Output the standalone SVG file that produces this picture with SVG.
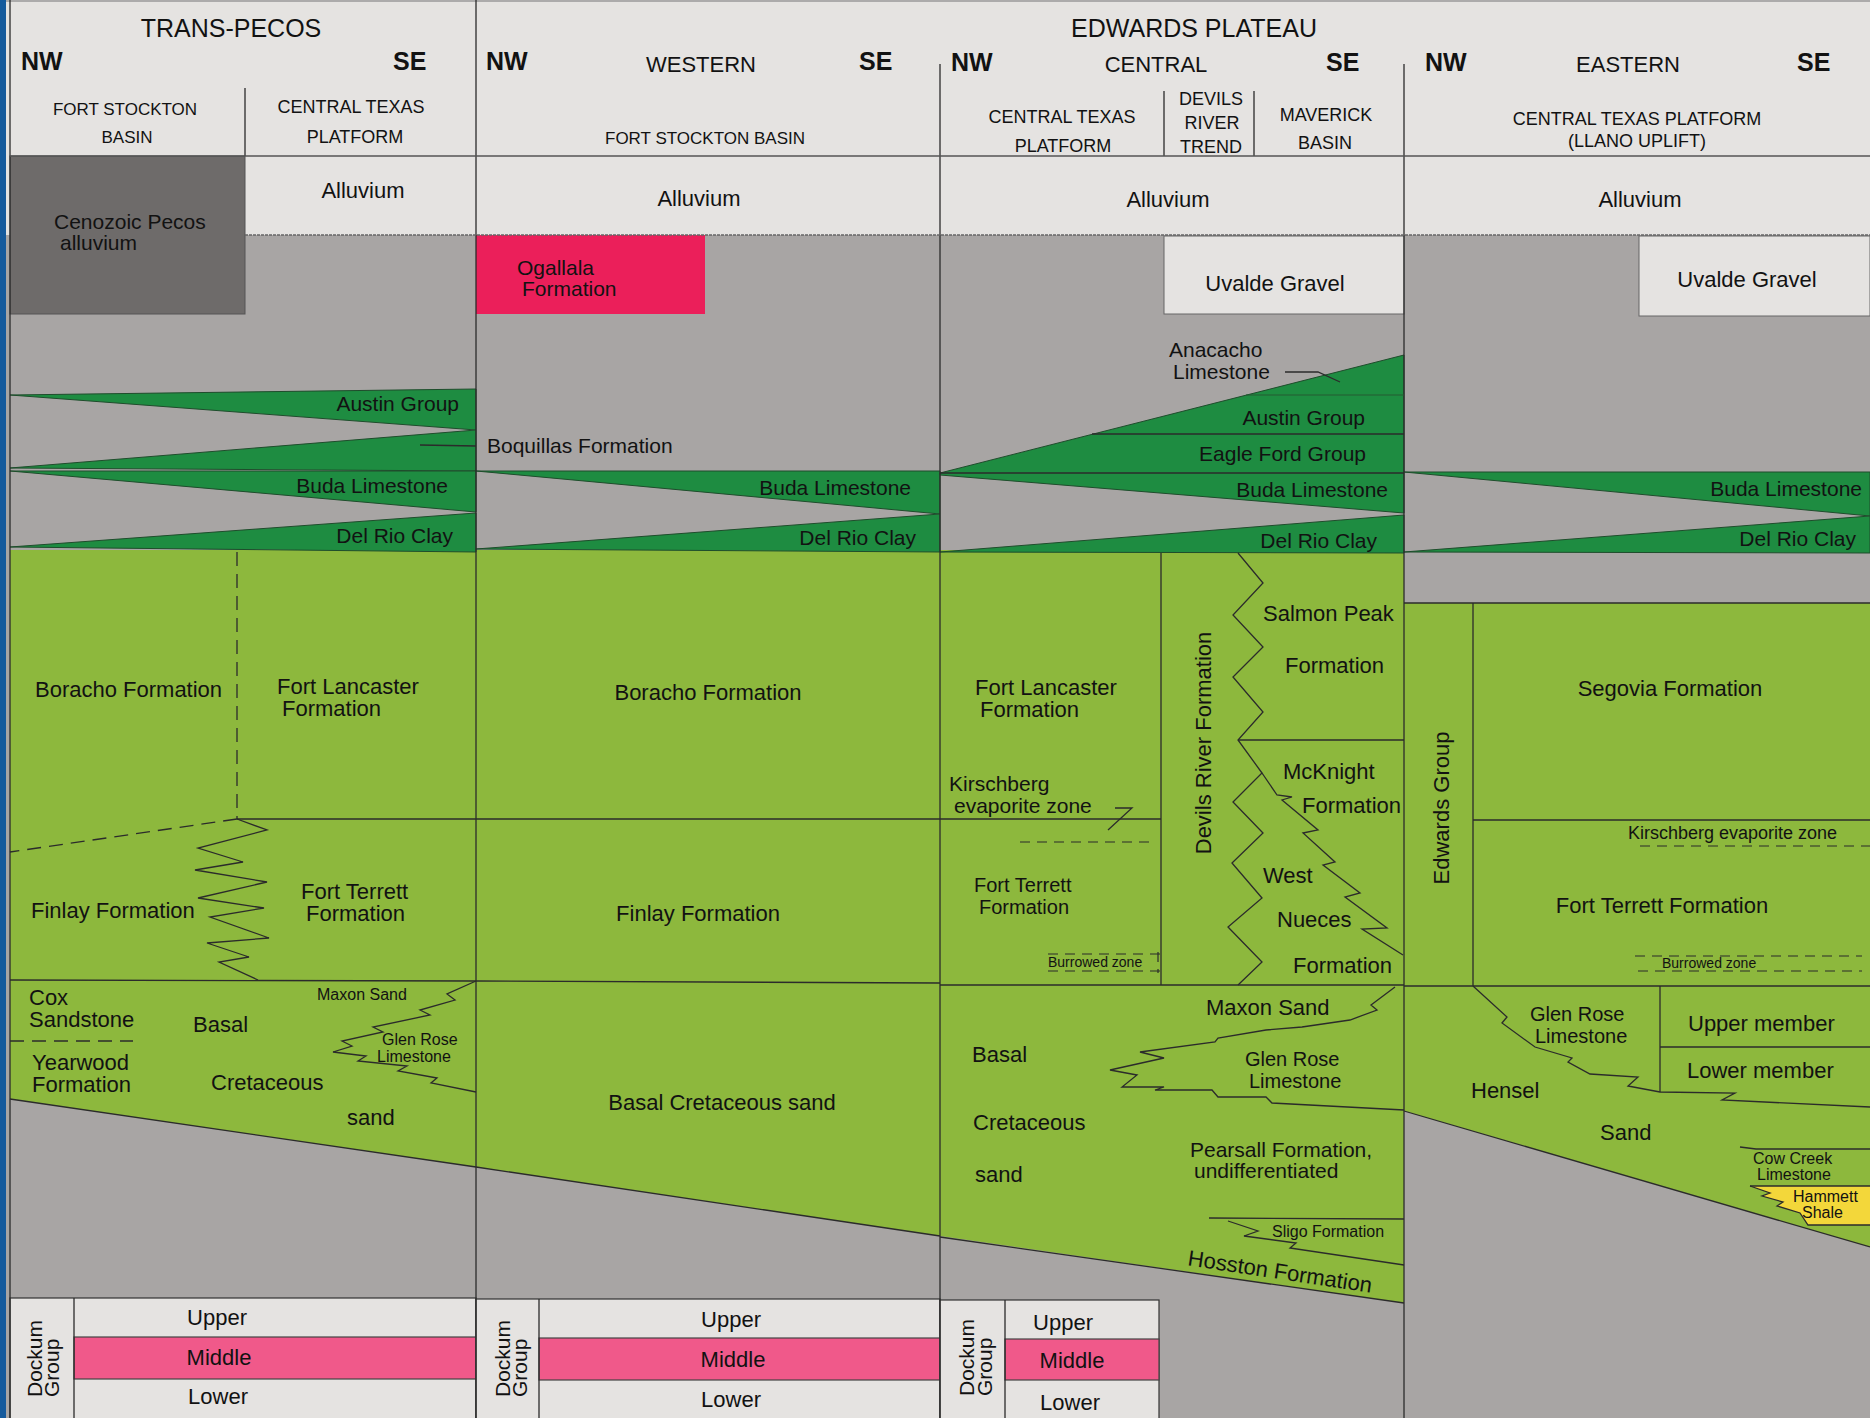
<svg xmlns="http://www.w3.org/2000/svg" width="1870" height="1418" viewBox="0 0 1870 1418">
<style>
text{font-family:"Liberation Sans",Arial,sans-serif;fill:#121212}
.hd{font-size:18px}
.hs{font-size:17px}
.big{font-size:25px}
.dir{font-size:25px;font-weight:bold}
.b{font-size:22px}
.r{font-size:21px}
.r20{font-size:20px}
.s{font-size:16px}
.xs{font-size:14px}
.m{text-anchor:middle}
.e{text-anchor:end}
.ln{fill:none;stroke:#2b2b2b;stroke-width:1.3}
.dl{fill:none;stroke:#2b2b2b;stroke-width:1.3;stroke-dasharray:14 8}
.ds{fill:none;stroke:#2b2b2b;stroke-width:1.2;stroke-dasharray:10 7}
.light{fill:#e5e3e1}
.dg{fill:#1e8c41;stroke:#1f4d2c;stroke-width:1}
.lg{fill:#8db83d}
</style>

<g id="background">
<rect x="0" y="0" width="1870" height="1418" fill="#a8a5a4"/>
<rect x="0" y="0" width="1870" height="235" class="light"/>
<rect x="0" y="0" width="6" height="1418" fill="#155a9c"/>
</g>

<g id="cenozoic">
<rect x="10" y="156" width="235" height="158" fill="#6e6b6a" stroke="#555" stroke-width="1"/>
<rect x="476" y="235" width="229" height="79" fill="#eb1f5a"/>
<rect x="1164" y="236" width="240" height="78" class="light" stroke="#666" stroke-width="1"/>
<rect x="1639" y="236" width="231" height="80" class="light" stroke="#666" stroke-width="1"/>
</g>

<g id="cretaceous-fill">
<polygon class="lg" points="10,550 1404,550 1404,1303 940,1236 476,1167 10,1099"/>
<polygon class="lg" points="1404,603 1870,603 1870,1247 1404,1111"/>
<polygon fill="#f3d73a" points="1750,1186 1870,1186 1870,1225 1808,1225 1800,1213 1777,1206 1783,1202 1762,1196 1770,1193"/>
</g>

<g id="wedges">
<polygon class="dg" points="10,395 476,389 476,430"/>
<polygon class="dg" points="10,468 476,430 476,471"/>
<polygon class="dg" points="10,471 476,471 476,512"/>
<polygon class="dg" points="10,547 476,513 476,552"/>
<polygon class="dg" points="476,471 940,471 940,514"/>
<polygon class="dg" points="476,549 940,514 940,552"/>
<polygon class="dg" points="940,473 1404,355 1404,513 940,475"/>
<polygon class="dg" points="940,552 1404,515 1404,553"/>
<polygon class="dg" points="1404,472 1870,472 1870,516"/>
<polygon class="dg" points="1404,552 1870,516 1870,553"/>
</g>

<g id="dockum">
<rect x="10" y="1298" width="466" height="122" class="light" stroke="#333" stroke-width="1.2"/>
<rect x="74" y="1337" width="402" height="42" fill="#f0598a" stroke="#444" stroke-width="1.2"/>
<line class="ln" x1="74" y1="1298" x2="74" y2="1418"/>
<rect x="476" y="1299" width="464" height="121" class="light" stroke="#333" stroke-width="1.2"/>
<rect x="539" y="1338" width="401" height="42" fill="#f0598a" stroke="#444" stroke-width="1.2"/>
<line class="ln" x1="539" y1="1299" x2="539" y2="1418"/>
<rect x="940" y="1300" width="219" height="120" class="light" stroke="#333" stroke-width="1.2"/>
<rect x="1005" y="1339" width="154" height="41" fill="#f0598a" stroke="#444" stroke-width="1.2"/>
<line class="ln" x1="1005" y1="1300" x2="1005" y2="1418"/>
</g>

<g id="lines">
<line x1="6" y1="1" x2="1870" y2="1" stroke="#999" stroke-width="1.5"/>
<line class="ln" x1="10" y1="0" x2="10" y2="1418"/>
<line class="ln" x1="476" y1="0" x2="476" y2="1418"/>
<line class="ln" x1="940" y1="64" x2="940" y2="1418"/>
<line class="ln" x1="1404" y1="64" x2="1404" y2="1418"/>
<line class="ln" x1="245" y1="88" x2="245" y2="156"/>
<line class="ln" x1="1164" y1="91" x2="1164" y2="156"/>
<line class="ln" x1="1254" y1="91" x2="1254" y2="156"/>
<line x1="10" y1="156" x2="1870" y2="156" stroke="#555" stroke-width="1.5"/>
<line x1="245" y1="235" x2="1870" y2="235" stroke="#666" stroke-width="1.5" stroke-dasharray="3 1"/>
<line class="ln" x1="420" y1="445" x2="476" y2="446"/>
<polyline class="ln" points="1285,372 1318,372 1340,382"/>
<line x1="1246" y1="395" x2="1404" y2="395" stroke="#245a33" stroke-width="1"/>
<line class="ln" x1="1092" y1="434" x2="1404" y2="434"/>
<line class="ln" x1="940" y1="473" x2="1404" y2="473"/>
<line class="ln" x1="1404" y1="603" x2="1870" y2="603"/>
<!-- Trans-Pecos -->
<line class="dl" x1="237" y1="552" x2="237" y2="819"/>
<line class="ln" x1="237" y1="819" x2="940" y2="819"/>
<line class="dl" x1="237" y1="819" x2="10" y2="852"/>
<polyline class="ln" points="237,819 267,830 198,848 243,862 195,870 267,882 198,898 264,908 210,917 269,938 207,943 249,957 219,962 258,980"/>
<line class="ln" x1="10" y1="980" x2="476" y2="981"/>
<line class="ln" x1="476" y1="981" x2="940" y2="983"/>
<line class="dl" x1="10" y1="1041" x2="133" y2="1041"/>
<polyline class="ln" points="476,981 447,994 455,1000 420,1010 430,1015 373,1027 383,1032 342,1041 352,1046 333,1052 366,1056 358,1061 407,1066 398,1071 437,1078 431,1083 476,1092"/>
<polyline class="ln" points="10,1099 476,1167 940,1236"/>
<!-- Central -->
<line class="ln" x1="1161" y1="553" x2="1161" y2="985"/>
<line class="ln" x1="940" y1="819" x2="1161" y2="819"/>
<polyline class="ln" points="1115,808 1132,808 1108,830"/>
<line class="ds" x1="1020" y1="842" x2="1152" y2="842"/>
<line class="ds" x1="1048" y1="954" x2="1160" y2="954"/>
<line class="ds" x1="1048" y1="971" x2="1160" y2="971"/>
<line class="ds" x1="1158" y1="952" x2="1158" y2="973"/>
<polyline class="ln" points="1238,553 1263,583 1233,615 1263,647 1233,677 1263,712 1238,740 1262,773 1233,802 1263,833 1232,863 1262,898 1228,927 1262,962 1238,985"/>
<line class="ln" x1="1238" y1="740" x2="1404" y2="740"/>
<polyline class="ln" points="1262,773 1277,795 1292,797 1282,800 1318,830 1303,833 1335,862 1323,865 1360,893 1345,897 1387,928 1362,929 1403,955"/>
<line class="ln" x1="940" y1="985" x2="1404" y2="985"/>
<polyline class="ln" points="1395,987 1371,1005 1377,1010 1350,1020 1302,1027 1266,1030 1218,1038 1215,1042 1140,1052 1164,1058 1110,1070 1137,1075 1122,1087 1164,1087 1155,1090 1212,1090 1218,1097 1266,1097 1272,1103 1404,1110"/>
<line class="ln" x1="1209" y1="1218" x2="1404" y2="1219"/>
<polyline class="ln" points="1228,1221 1258,1231 1244,1236 1296,1243 1290,1248 1404,1265"/>
<polyline class="ln" points="940,1237 1404,1303"/>
<!-- Eastern -->
<line class="ln" x1="1473" y1="603" x2="1473" y2="986"/>
<line class="ln" x1="1473" y1="820" x2="1870" y2="820"/>
<line class="ds" x1="1640" y1="846" x2="1870" y2="846"/>
<line class="ds" x1="1635" y1="956" x2="1862" y2="956"/>
<line class="ds" x1="1638" y1="971" x2="1862" y2="971"/>
<line class="ln" x1="1404" y1="986" x2="1870" y2="986"/>
<polyline class="ln" points="1473,986 1507,1017 1502,1023 1535,1047 1572,1058 1568,1062 1590,1074 1638,1077 1628,1086 1660,1092 1735,1093 1722,1100 1870,1107"/>
<line class="ln" x1="1660" y1="986" x2="1660" y2="1092"/>
<line class="ln" x1="1660" y1="1047" x2="1870" y2="1047"/>
<polyline class="ln" points="1740,1147 1756,1149 1870,1149"/>
<line class="ln" x1="1750" y1="1186" x2="1870" y2="1186"/>
<polyline class="ln" points="1750,1186 1770,1193 1762,1196 1783,1202 1777,1206 1800,1213 1808,1225 1870,1225"/>
<polyline class="ln" points="1404,1111 1870,1247"/>
</g>

<g id="header-text">
<text class="big m" x="231" y="37">TRANS-PECOS</text>
<text class="dir" x="21" y="70">NW</text>
<text class="dir" x="393" y="70">SE</text>
<text class="hs m" x="125" y="115">FORT STOCKTON</text>
<text class="hs m" x="127" y="143">BASIN</text>
<text class="hd m" x="351" y="113">CENTRAL TEXAS</text>
<text class="hd m" x="355" y="143">PLATFORM</text>
<text class="dir" x="486" y="70">NW</text>
<text class="b m" x="701" y="72">WESTERN</text>
<text class="dir" x="859" y="70">SE</text>
<text class="hs m" x="705" y="144">FORT STOCKTON BASIN</text>
<text class="big m" x="1194" y="37">EDWARDS PLATEAU</text>
<text class="dir" x="951" y="71">NW</text>
<text class="b m" x="1156" y="72">CENTRAL</text>
<text class="dir" x="1326" y="71">SE</text>
<text class="hd m" x="1062" y="123">CENTRAL TEXAS</text>
<text class="hd m" x="1063" y="152">PLATFORM</text>
<text class="hd m" x="1211" y="105">DEVILS</text>
<text class="hd m" x="1212" y="129">RIVER</text>
<text class="hd m" x="1211" y="153">TREND</text>
<text class="hd m" x="1326" y="121">MAVERICK</text>
<text class="hd m" x="1325" y="149">BASIN</text>
<text class="dir" x="1425" y="71">NW</text>
<text class="b m" x="1628" y="72">EASTERN</text>
<text class="dir" x="1797" y="71">SE</text>
<text class="hd m" x="1637" y="125">CENTRAL TEXAS PLATFORM</text>
<text class="hd m" x="1637" y="147">(LLANO UPLIFT)</text>
</g>

<g id="upper-text">
<text class="b m" x="363" y="198">Alluvium</text>
<text class="b m" x="699" y="206">Alluvium</text>
<text class="b m" x="1168" y="207">Alluvium</text>
<text class="b m" x="1640" y="207">Alluvium</text>
<text class="r" x="54" y="229">Cenozoic Pecos</text>
<text class="r" x="60" y="250">alluvium</text>
<text class="r" x="517" y="275">Ogallala</text>
<text class="r" x="522" y="296">Formation</text>
<text class="b m" x="1275" y="291">Uvalde Gravel</text>
<text class="b m" x="1747" y="287">Uvalde Gravel</text>
<text class="r e" x="459" y="411">Austin Group</text>
<text class="r" x="487" y="453">Boquillas Formation</text>
<text class="r e" x="448" y="493">Buda Limestone</text>
<text class="r e" x="453" y="543">Del Rio Clay</text>
<text class="r e" x="911" y="495">Buda Limestone</text>
<text class="r e" x="916" y="545">Del Rio Clay</text>
<text class="r" x="1169" y="357">Anacacho</text>
<text class="r" x="1173" y="379">Limestone</text>
<text class="r e" x="1365" y="425">Austin Group</text>
<text class="r e" x="1366" y="461">Eagle Ford Group</text>
<text class="r e" x="1388" y="497">Buda Limestone</text>
<text class="r e" x="1377" y="548">Del Rio Clay</text>
<text class="r e" x="1862" y="496">Buda Limestone</text>
<text class="r e" x="1856" y="546">Del Rio Clay</text>
</g>

<g id="middle-text">
<text class="b" x="35" y="697">Boracho Formation</text>
<text class="b" x="277" y="694">Fort Lancaster</text>
<text class="b" x="282" y="716">Formation</text>
<text class="b" x="31" y="918">Finlay Formation</text>
<text class="b" x="301" y="899">Fort Terrett</text>
<text class="b" x="306" y="921">Formation</text>
<text class="b m" x="708" y="700">Boracho Formation</text>
<text class="b m" x="698" y="921">Finlay Formation</text>
<text class="b" x="975" y="695">Fort Lancaster</text>
<text class="b" x="980" y="717">Formation</text>
<text class="r" x="949" y="791">Kirschberg</text>
<text class="r" x="954" y="813">evaporite zone</text>
<text class="r20" x="974" y="892">Fort Terrett</text>
<text class="r20" x="979" y="914">Formation</text>
<text class="xs" x="1048" y="967">Burrowed zone</text>
<text class="b m" transform="translate(1211,743) rotate(-90)">Devils River Formation</text>
<text class="b" x="1263" y="621">Salmon Peak</text>
<text class="b" x="1285" y="673">Formation</text>
<text class="b" x="1283" y="779">McKnight</text>
<text class="b" x="1302" y="813">Formation</text>
<text class="b" x="1263" y="883">West</text>
<text class="b" x="1277" y="927">Nueces</text>
<text class="b" x="1293" y="973">Formation</text>
<text class="b m" transform="translate(1449,808) rotate(-90)">Edwards Group</text>
<text class="b m" x="1670" y="696">Segovia Formation</text>
<text class="hd" x="1628" y="839">Kirschberg evaporite zone</text>
<text class="b m" x="1662" y="913">Fort Terrett Formation</text>
<text class="xs" x="1662" y="968">Burrowed zone</text>
</g>

<g id="lower-text">
<text class="b" x="29" y="1005">Cox</text>
<text class="b" x="29" y="1027">Sandstone</text>
<text class="b" x="32" y="1070">Yearwood</text>
<text class="b" x="32" y="1092">Formation</text>
<text class="b" x="193" y="1032">Basal</text>
<text class="b" x="211" y="1090">Cretaceous</text>
<text class="b" x="347" y="1125">sand</text>
<text class="s" x="317" y="1000">Maxon Sand</text>
<text class="s" x="382" y="1045">Glen Rose</text>
<text class="s" x="377" y="1062">Limestone</text>
<text class="b m" x="722" y="1110">Basal Cretaceous sand</text>
<text class="b" x="1206" y="1015">Maxon Sand</text>
<text class="r20" x="1245" y="1066">Glen Rose</text>
<text class="r20" x="1249" y="1088">Limestone</text>
<text class="b" x="972" y="1062">Basal</text>
<text class="b" x="973" y="1130">Cretaceous</text>
<text class="b" x="975" y="1182">sand</text>
<text class="r" x="1190" y="1157">Pearsall Formation,</text>
<text class="r" x="1194" y="1178">undifferentiated</text>
<text class="s" x="1272" y="1237">Sligo Formation</text>
<text class="b m" transform="translate(1279,1279) rotate(8.5)">Hosston Formation</text>
<text class="r20" x="1530" y="1021">Glen Rose</text>
<text class="r20" x="1535" y="1043">Limestone</text>
<text class="b" x="1688" y="1031">Upper member</text>
<text class="b" x="1687" y="1078">Lower member</text>
<text class="b" x="1471" y="1098">Hensel</text>
<text class="b" x="1600" y="1140">Sand</text>
<text class="s" x="1753" y="1164">Cow Creek</text>
<text class="s" x="1757" y="1180">Limestone</text>
<text class="s" x="1793" y="1202">Hammett</text>
<text class="s" x="1802" y="1218">Shale</text>
</g>

<g id="dockum-text">
<text class="r" transform="translate(42,1397) rotate(-90)">Dockum</text>
<text class="r" transform="translate(59,1397) rotate(-90)">Group</text>
<text class="b m" x="217" y="1325">Upper</text>
<text class="b m" x="219" y="1365">Middle</text>
<text class="b m" x="218" y="1404">Lower</text>
<text class="r" transform="translate(510,1397) rotate(-90)">Dockum</text>
<text class="r" transform="translate(527,1397) rotate(-90)">Group</text>
<text class="b m" x="731" y="1327">Upper</text>
<text class="b m" x="733" y="1367">Middle</text>
<text class="b m" x="731" y="1407">Lower</text>
<text class="r" transform="translate(974,1396) rotate(-90)">Dockum</text>
<text class="r" transform="translate(992,1396) rotate(-90)">Group</text>
<text class="b m" x="1063" y="1330">Upper</text>
<text class="b m" x="1072" y="1368">Middle</text>
<text class="b m" x="1070" y="1410">Lower</text>
</g>
</svg>
